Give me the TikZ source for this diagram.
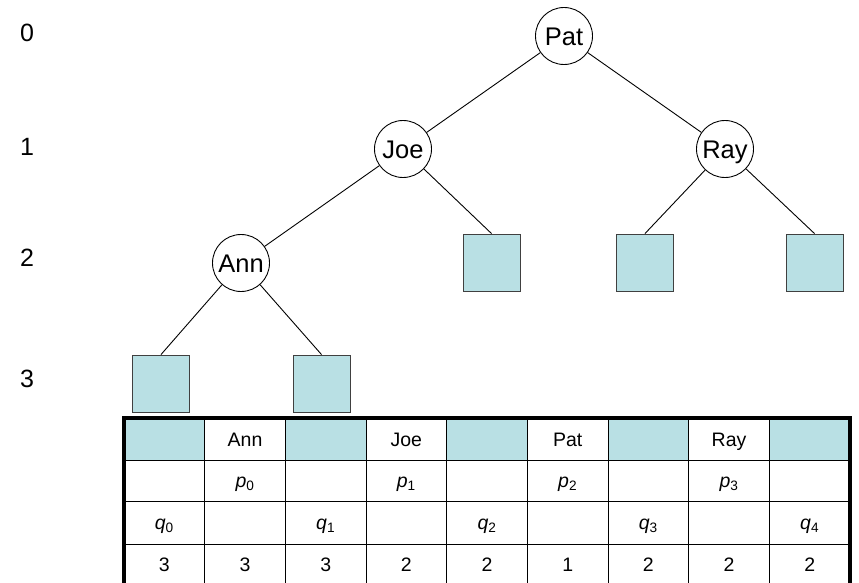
\documentclass[tikz,border=0pt]{standalone}
\usepackage{fontspec}
\setmainfont{Liberation Sans}

\definecolor{leafblue}{RGB}{185,224,228}
\tikzset{
  key/.style={circle,draw,line width=0.9pt,minimum size=57pt,inner sep=0pt,text height=18.4pt,text depth=0pt,font=\fontsize{25.5}{30}\selectfont},
  leaf/.style={rectangle,draw=black!75,line width=0.9pt,fill=leafblue,minimum size=57pt,inner sep=0pt},
  depth/.style={font=\fontsize{25}{30}\selectfont},
  cell/.style={text height=14pt,text depth=0pt,font=\fontsize{19.5}{23}\selectfont},
}

\begin{document}
\begin{tikzpicture}[x=1pt,y=-1pt]
\useasboundingbox (0,0) rectangle (859,583);
\clip (0,0) rectangle (859,583);
% depth labels
\node[depth] (d0) at (27,33) {0};
\node[depth] (d1) at (27,147) {1};
\node[depth] (d2) at (27,258) {2};
\node[depth] (d3) at (27,379) {3};
% keys and leaves
\node[key] (pat) at (564,36) {Pat};
\node[key] (joe) at (403,149) {Joe};
\node[key] (ray) at (725,149) {Ray};
\node[key] (ann) at (241,263) {Ann};
\node[leaf] (joer) at (491.5,262.5) {};
\node[leaf] (rayl) at (645,262.5) {};
\node[leaf] (rayr) at (814.5,262.5) {};
\node[leaf] (annl) at (161,383.5) {};
\node[leaf] (annr) at (321.5,383.5) {};
\draw[line width=0.9pt] (pat) -- (joe);
\draw[line width=0.9pt] (pat) -- (ray);
\draw[line width=0.9pt] (joe) -- (ann);
\draw[line width=0.9pt] (joe) -- (joer.north);
\draw[line width=0.9pt] (ray) -- (rayl.north);
\draw[line width=0.9pt] (ray) -- (rayr.north);
\draw[line width=0.9pt] (ann) -- (annl.north);
\draw[line width=0.9pt] (ann) -- (annr.north);
% table
\fill[leafblue] (124,418) rectangle (204.67,460);
\fill[leafblue] (285.33,418) rectangle (366,460);
\fill[leafblue] (446.67,418) rectangle (527.33,460);
\fill[leafblue] (608,418) rectangle (688.67,460);
\fill[leafblue] (769.33,418) rectangle (850,460);
\draw[line width=1pt] (124,460) -- (850,460);
\draw[line width=1pt] (124,501) -- (850,501);
\draw[line width=1pt] (124,544) -- (850,544);
\draw[line width=1pt] (204.67,418) -- (204.67,590);
\draw[line width=1pt] (285.33,418) -- (285.33,590);
\draw[line width=1pt] (366,418) -- (366,590);
\draw[line width=1pt] (446.67,418) -- (446.67,590);
\draw[line width=1pt] (527.33,418) -- (527.33,590);
\draw[line width=1pt] (608,418) -- (608,590);
\draw[line width=1pt] (688.67,418) -- (688.67,590);
\draw[line width=1pt] (769.33,418) -- (769.33,590);
\draw[line width=3.5pt] (124,590) -- (124,418) -- (850,418) -- (850,590);
\node[cell] (tann) at (245,439) {Ann};
\node[cell] (tjoe) at (406.3,439) {Joe};
\node[cell] (tpat) at (567.7,439) {Pat};
\node[cell] (tray) at (729,439) {Ray};
\node[cell] (p0) at (245,480.5) {\textit{p}\textsubscript{0}};
\node[cell] (p1) at (406.3,480.5) {\textit{p}\textsubscript{1}};
\node[cell] (p2) at (567.7,480.5) {\textit{p}\textsubscript{2}};
\node[cell] (p3) at (729,480.5) {\textit{p}\textsubscript{3}};
\node[cell] (q0) at (164.3,522.5) {\textit{q}\textsubscript{0}};
\node[cell] (q1) at (325.7,522.5) {\textit{q}\textsubscript{1}};
\node[cell] (q2) at (487,522.5) {\textit{q}\textsubscript{2}};
\node[cell] (q3) at (648.3,522.5) {\textit{q}\textsubscript{3}};
\node[cell] (q4) at (809.7,522.5) {\textit{q}\textsubscript{4}};
\node[cell] (n0) at (164.3,564) {3};
\node[cell] (n1) at (245,564) {3};
\node[cell] (n2) at (325.7,564) {3};
\node[cell] (n3) at (406.3,564) {2};
\node[cell] (n4) at (487,564) {2};
\node[cell] (n5) at (567.7,564) {1};
\node[cell] (n6) at (648.3,564) {2};
\node[cell] (n7) at (729,564) {2};
\node[cell] (n8) at (809.7,564) {2};
\end{tikzpicture}
\end{document}
